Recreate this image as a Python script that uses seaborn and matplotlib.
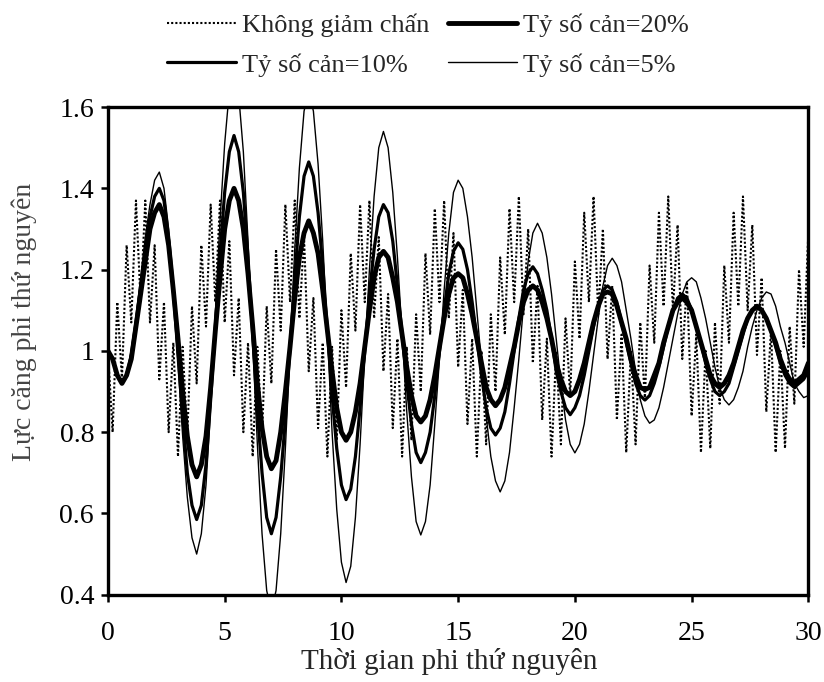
import numpy as np
import pandas as pd
import matplotlib
matplotlib.use("Agg")
import matplotlib.pyplot as plt
import seaborn as sns

# time axis (dimensionless), step 0.2 from 0 to 30
t = [round(0.2 * i, 1) for i in range(151)]

# Không giảm chấn (no damping) - fast oscillation riding on slow one
y_none = [1.00, 0.80, 1.12, 0.93, 1.26, 1.07, 1.37, 1.12, 1.37, 1.07,
          1.26, 0.93, 1.12, 0.80, 1.02, 0.74, 1.01, 0.79, 1.11, 0.92,
          1.26, 1.06, 1.36, 1.12, 1.37, 1.07, 1.27, 0.94, 1.13, 0.80,
          1.02, 0.74, 1.01, 0.79, 1.11, 0.92, 1.25, 1.05, 1.36, 1.12,
          1.37, 1.08, 1.28, 0.95, 1.13, 0.81, 1.02, 0.74, 1.01, 0.78,
          1.10, 0.91, 1.24, 1.05, 1.36, 1.12, 1.37, 1.08, 1.28, 0.95,
          1.14, 0.81, 1.03, 0.74, 1.01, 0.78, 1.09, 0.90, 1.24, 1.04,
          1.35, 1.12, 1.37, 1.08, 1.29, 0.96, 1.15, 0.82, 1.03, 0.74,
          1.00, 0.77, 1.09, 0.90, 1.23, 1.04, 1.35, 1.12, 1.38, 1.09,
          1.30, 0.97, 1.16, 0.83, 1.03, 0.74, 1.00, 0.77, 1.08, 0.89,
          1.22, 1.03, 1.34, 1.12, 1.38, 1.09, 1.30, 0.98, 1.16, 0.83,
          1.04, 0.75, 1.00, 0.77, 1.07, 0.88, 1.21, 1.02, 1.34, 1.11,
          1.38, 1.10, 1.31, 0.98, 1.17, 0.84, 1.04, 0.75, 1.00, 0.76,
          1.07, 0.87, 1.21, 1.02, 1.34, 1.11, 1.38, 1.10, 1.31, 0.99,
          1.18, 0.85, 1.05, 0.75, 1.00, 0.76, 1.06, 0.87, 1.20, 1.01,
          1.29]

# Tỷ số cản = 20%
y_20 = [1.00, 0.98, 0.94, 0.92,
        0.94, 0.98, 1.06, 1.14, 1.22, 1.30, 1.34, 1.36,
        1.33, 1.26, 1.15, 1.03, 0.90, 0.79, 0.72, 0.69,
        0.72, 0.79, 0.91, 1.05, 1.18, 1.30, 1.37, 1.40,
        1.37, 1.30, 1.19, 1.06, 0.92, 0.81, 0.74, 0.71,
        0.73, 0.80, 0.90, 1.01, 1.13, 1.23, 1.29, 1.32,
        1.29, 1.24, 1.15, 1.05, 0.95, 0.86, 0.80, 0.78,
        0.80, 0.85, 0.92, 1.01, 1.10, 1.18, 1.23, 1.245,
        1.23, 1.18, 1.12, 1.04, 0.96, 0.89, 0.84, 0.825,
        0.84, 0.88, 0.94, 1.01, 1.08, 1.14, 1.18, 1.19,
        1.18, 1.14, 1.09, 1.03, 0.97, 0.91, 0.88, 0.865,
        0.88, 0.91, 0.96, 1.01, 1.07, 1.12, 1.15, 1.16,
        1.15, 1.12, 1.08, 1.03, 0.97, 0.93, 0.90, 0.89,
        0.90, 0.93, 0.97, 1.02, 1.07, 1.11, 1.14, 1.145,
        1.14, 1.11, 1.07, 1.03, 0.98, 0.94, 0.91, 0.905,
        0.91, 0.94, 0.97, 1.02, 1.06, 1.10, 1.12, 1.13,
        1.12, 1.10, 1.06, 1.02, 0.98, 0.94, 0.92, 0.91,
        0.92, 0.94, 0.97, 1.01, 1.05, 1.08, 1.10, 1.11,
        1.10, 1.08, 1.05, 1.02, 0.98, 0.95, 0.93, 0.92,
        0.93, 0.94, 0.97]

# Tỷ số cản = 10%
y_10 = [1.00, 0.98, 0.94, 0.92,
        0.94, 0.99, 1.07, 1.16, 1.25, 1.33, 1.38, 1.40,
        1.37, 1.28, 1.15, 0.99, 0.84, 0.70, 0.62, 0.585,
        0.62, 0.72, 0.88, 1.06, 1.24, 1.39, 1.49, 1.53,
        1.49, 1.39, 1.23, 1.04, 0.85, 0.70, 0.59, 0.55,
        0.59, 0.69, 0.83, 1.01, 1.18, 1.33, 1.43, 1.465,
        1.43, 1.34, 1.21, 1.05, 0.89, 0.76, 0.67, 0.634,
        0.66, 0.74, 0.86, 1.00, 1.14, 1.25, 1.33, 1.36,
        1.34, 1.27, 1.16, 1.04, 0.92, 0.82, 0.75, 0.725,
        0.75, 0.80, 0.89, 1.00, 1.10, 1.19, 1.245, 1.266,
        1.25, 1.20, 1.12, 1.03, 0.94, 0.86, 0.81, 0.793,
        0.81, 0.85, 0.92, 1.00, 1.08, 1.15, 1.19, 1.207,
        1.19, 1.15, 1.10, 1.03, 0.95, 0.90, 0.86, 0.843,
        0.86, 0.89, 0.94, 1.00, 1.06, 1.11, 1.15, 1.16,
        1.15, 1.12, 1.07, 1.02, 0.97, 0.92, 0.89, 0.879,
        0.89, 0.92, 0.96, 1.01, 1.06, 1.10, 1.13, 1.14,
        1.13, 1.10, 1.06, 1.02, 0.97, 0.93, 0.90, 0.89,
        0.90, 0.92, 0.96, 1.00, 1.04, 1.08, 1.10, 1.11,
        1.10, 1.08, 1.05, 1.01, 0.97, 0.94, 0.92, 0.91,
        0.92, 0.93, 0.95]

# Tỷ số cản = 5%
y_5 = [1.00, 0.98, 0.94, 0.92,
       0.94, 1.00, 1.08, 1.18, 1.28, 1.36, 1.42, 1.44,
       1.40, 1.30, 1.15, 0.97, 0.79, 0.64, 0.54, 0.50,
       0.55, 0.67, 0.86, 1.09, 1.32, 1.51, 1.64, 1.68,
       1.63, 1.49, 1.27, 1.02, 0.77, 0.55, 0.41, 0.36,
       0.41, 0.55, 0.76, 1.00, 1.25, 1.45, 1.59, 1.64,
       1.59, 1.46, 1.27, 1.04, 0.80, 0.61, 0.48, 0.43,
       0.47, 0.59, 0.77, 0.99, 1.20, 1.38, 1.50, 1.54,
       1.50, 1.39, 1.23, 1.04, 0.85, 0.69, 0.58, 0.547,
       0.58, 0.67, 0.82, 0.98, 1.15, 1.29, 1.39, 1.42,
       1.40, 1.33, 1.23, 1.10, 0.97, 0.84, 0.74, 0.68, 0.653,
       0.68, 0.75, 0.86, 0.98, 1.11, 1.22, 1.29, 1.314,
       1.29, 1.23, 1.14, 1.03, 0.92, 0.83, 0.77, 0.749,
       0.77, 0.82, 0.90, 0.99, 1.08, 1.16, 1.21, 1.228,
       1.21, 1.17, 1.10, 1.03, 0.95, 0.88, 0.84, 0.822,
       0.83, 0.86, 0.91, 0.97, 1.03, 1.09, 1.14, 1.17, 1.18,
       1.17, 1.13, 1.08, 1.02, 0.96, 0.91, 0.88, 0.867,
       0.88, 0.91, 0.95, 1.01, 1.06, 1.10, 1.13, 1.145,
       1.14, 1.11, 1.06, 1.02, 0.97, 0.92, 0.90, 0.885,
       0.89]

labels = ["Không giảm chấn", "Tỷ số cản=20%", "Tỷ số cản=10%", "Tỷ số cản=5%"]
x_ticks = [0, 5, 10, 15, 20, 25, 30]
y_ticks = [0.4, 0.6, 0.8, 1.0, 1.2, 1.4, 1.6]
y_tick_labels = ["0.4", "0.6", "0.8", "1", "1.2", "1.4", "1.6"]
x_label = "Thời gian phi thứ nguyên"
y_label = "Lực căng phi thứ nguyên"

sns.set_style("white")
plt.rcParams["font.family"] = ["Liberation Serif", "DejaVu Serif"]

fig = plt.figure(figsize=(8.24, 6.82), dpi=100)
ax = fig.add_axes([0.131, 0.128, 0.850, 0.715])

df = pd.DataFrame({"t": t, "none": y_none, "d20": y_20, "d10": y_10, "d5": y_5})

sns.lineplot(data=df, x="t", y="none", ax=ax, color="black", linewidth=1.5,
             linestyle=(0, (1.0, 1.0)), label=labels[0], sort=False)
sns.lineplot(data=df, x="t", y="d5", ax=ax, color="black", linewidth=1.0,
             label=labels[3], sort=False)
sns.lineplot(data=df, x="t", y="d10", ax=ax, color="black", linewidth=2.3,
             label=labels[2], sort=False)
sns.lineplot(data=df, x="t", y="d20", ax=ax, color="black", linewidth=3.5,
             label=labels[1], sort=False)

ax.set_xlim(0, 30)
ax.set_ylim(0.4, 1.6)
ax.set_xticks(x_ticks)
ax.set_xticklabels([str(v) for v in x_ticks])
ax.set_yticks(y_ticks)
ax.set_yticklabels(y_tick_labels)
ax.tick_params(axis="both", which="both", direction="out", length=5, width=1.8,
               labelsize=20, colors="black", bottom=True, left=True)
ax.tick_params(axis="x", pad=14)
ax.tick_params(axis="y", pad=5)
for s in ax.spines.values():
    s.set_visible(True)
    s.set_color("black")
    s.set_linewidth(2.4)

ax.set_xlabel(x_label, fontsize=21, labelpad=4)
ax.xaxis.set_label_coords(0.487, -0.11)
ax.set_ylabel(y_label, fontsize=20, color="#444444")
ax.yaxis.set_label_coords(-0.102, 0.56)

handles, labs = ax.get_legend_handles_labels()
hmap = dict(zip(labs, handles))
order = [labels[0], labels[2], labels[1], labels[3]]
ax.legend([hmap[l] for l in order], order, ncol=2, frameon=False,
          loc="lower center", bbox_to_anchor=(0.457, 1.03), fontsize=19,
          handlelength=2.6, handletextpad=0.25, columnspacing=0.7,
          labelspacing=0.6, borderaxespad=0.2)

fig.savefig("out.png", dpi=100)
